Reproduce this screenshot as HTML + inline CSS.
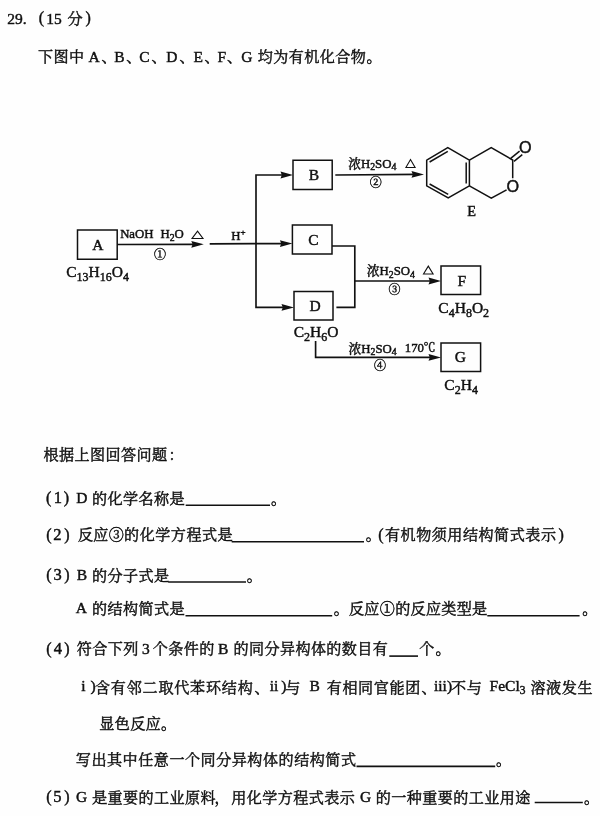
<!DOCTYPE html>
<html lang="zh-CN">
<head>
<meta charset="utf-8">
<title>29</title>
<style>
html,body{margin:0;padding:0;background:#fff}
body{width:600px;height:816px;overflow:hidden;position:relative;font-family:"Liberation Serif",serif}
.page{position:absolute;left:0;top:0;width:600px;height:816px;background:#fefefe;overflow:hidden}
svg{position:absolute;left:0;overflow:visible;font-family:"Liberation Serif",serif;fill:#111}
svg text{white-space:pre}
.z{fill:none;stroke:none}
.c{font-family:"Liberation Serif","Noto Serif CJK SC",serif;fill:#111}
.l{fill:none;stroke:#111}
.a{fill:#111;stroke:none}
.s{font-family:"Liberation Sans",sans-serif}
text{stroke:#111;stroke-width:0.45}
.page{filter:grayscale(1)}
</style>
</head>
<body>
<div class="page">
<svg style="top:4px" width="600" height="28" viewBox="0 4 600 28">
<text x="7.32" y="24" font-size="15.5">29.</text>
<text x="38.8" y="23.4" font-size="16">(</text>
<text x="46.24" y="24" font-size="15.5">15</text>
<text class="c" x="67.56" y="24" font-size="15.1">分</text>
<text x="85.6" y="23.4" font-size="16">)</text>
</svg>
<svg style="top:42px" width="600" height="28" viewBox="0 42 600 28">
<text class="c" x="38.03" y="61.6" font-size="15.1" letter-spacing="0.4">下图中</text>
<text x="88.45" y="61.8" font-size="15.5">A</text>
<text class="c" x="101.44" y="61.6" font-size="15.1">、</text>
<text x="114.25" y="61.8" font-size="15.5">B</text>
<text class="c" x="126.14" y="61.6" font-size="15.1">、</text>
<text x="139.36" y="61.8" font-size="15.5">C</text>
<text class="c" x="151.44" y="61.6" font-size="15.1">、</text>
<text x="166.25" y="61.8" font-size="15.5">D</text>
<text class="c" x="179.44" y="61.6" font-size="15.1">、</text>
<text x="193.55" y="61.8" font-size="15.5">E</text>
<text class="c" x="204.44" y="61.6" font-size="15.1">、</text>
<text x="217.55" y="61.8" font-size="15.5">F</text>
<text class="c" x="226.94" y="61.6" font-size="15.1">、</text>
<text x="241.36" y="61.8" font-size="15.5">G</text>
<text class="c" x="257.77" y="61.6" font-size="15.1" letter-spacing="0.4">均为有机化合物</text>
<text class="c" x="366.57" y="61.6" font-size="15.1">。</text>
</svg>
<svg style="top:130px" width="600" height="280" viewBox="0 130 600 280">
<path class="l" stroke-width="1.5" d="M77.5 230H117.2V259.2H77.5Z"/>
<text x="92.28" y="249.72" font-size="15.5">A</text>
<path class="l" stroke-width="1.5" d="M293 160.3H332.2V189.5H293Z"/>
<text x="308.69" y="179.95" font-size="15.5">B</text>
<path class="l" stroke-width="1.5" d="M292.4 225H332V254H292.4Z"/>
<text x="308.34" y="244.76" font-size="15.5">C</text>
<path class="l" stroke-width="1.5" d="M294 291.4H333V320H294Z"/>
<text x="309.49" y="311.06" font-size="15.5">D</text>
<path class="l" stroke-width="1.5" d="M441 266H480.6V294.6H441Z"/>
<text x="457.55" y="286.07" font-size="15.5">F</text>
<path class="l" stroke-width="1.5" d="M441 343H480.6V371.6H441Z"/>
<text x="454.83" y="362.06" font-size="15.5">G</text>
<path class="l" stroke-width="1.65" d="M117.2 244.5L198 244.3"/>
<path class="a" d="M203.8 244.3L191.3 240.9L192.6 244.3L191.3 247.7Z"/>
<path class="l" stroke-width="1.65" d="M209.7 243.8L285 243.6"/>
<path class="a" d="M292.4 243.6L279.9 240.2L281.2 243.6L279.9 247Z"/>
<path class="l" stroke-width="1.65" d="M285 175L256 175L256 307.4L285 307.4"/>
<path class="a" d="M293 175L280.5 171.6L281.8 175L280.5 178.4Z"/>
<path class="a" d="M294 307.4L281.5 304L282.8 307.4L281.5 310.8Z"/>
<path class="l" stroke-width="1.65" d="M335.3 175L418 174.4"/>
<path class="a" d="M424 174.4L411.5 171L412.8 174.4L411.5 177.8Z"/>
<path class="l" stroke-width="1.65" d="M332 246L354.8 246L354.8 307.4L336.4 307.4"/>
<path class="l" stroke-width="1.65" d="M354.8 281L435 281"/>
<path class="a" d="M441 281L428.5 277.6L429.8 281L428.5 284.4Z"/>
<path class="l" stroke-width="1.65" d="M315.6 341L315.6 357.4L435 357.4"/>
<path class="a" d="M441 357.4L428.5 354L429.8 357.4L428.5 360.8Z"/>
<text x="120.13" y="238.3" font-size="12.8">NaOH</text>
<text x="160.43" y="238.3" font-size="12.8">H</text>
<text x="169.68" y="240.7" font-size="9.8">2</text>
<text x="174.58" y="238.3" font-size="12.8">O</text>
<path class="l" stroke-width="1.1" stroke-linejoin="miter" d="M192.1 238.45L197.55 231.1L203 238.45Z"/>
<text class="z" x="191.2" y="239" font-size="10">△</text>
<text class="c" x="154" y="258.86" font-size="12">①</text>
<text x="231.13" y="240" font-size="12.8">H</text>
<text x="240.38" y="235.14" font-size="9">+</text>
<text class="c" x="348.15" y="167.8" font-size="12.8">浓</text>
<text x="360.95" y="167.8" font-size="12.8">H</text>
<text x="370.2" y="170.2" font-size="9.8">2</text>
<text x="375.1" y="167.8" font-size="12.8">SO</text>
<text x="391.46" y="170.2" font-size="9.8">4</text>
<path class="l" stroke-width="1.1" stroke-linejoin="miter" d="M405.9 167.45L410.5 159.5L415.1 167.45Z"/>
<text class="z" x="405" y="168" font-size="10">△</text>
<text class="c" x="369.7" y="187.26" font-size="12">②</text>
<text class="c" x="366.75" y="275.4" font-size="12.8">浓</text>
<text x="379.55" y="275.4" font-size="12.8">H</text>
<text x="388.8" y="277.8" font-size="9.8">2</text>
<text x="393.7" y="275.4" font-size="12.8">SO</text>
<text x="410.06" y="277.8" font-size="9.8">4</text>
<path class="l" stroke-width="1.1" stroke-linejoin="miter" d="M423.5 274.05L428.3 266.1L433.1 274.05Z"/>
<text class="z" x="422.6" y="274.6" font-size="10">△</text>
<text class="c" x="388.5" y="293.76" font-size="12">③</text>
<text class="c" x="348.45" y="352.8" font-size="12.8">浓</text>
<text x="361.25" y="352.8" font-size="12.8">H</text>
<text x="370.5" y="355.2" font-size="9.8">2</text>
<text x="375.4" y="352.8" font-size="12.8">SO</text>
<text x="391.76" y="355.2" font-size="9.8">4</text>
<text x="404.77" y="352.2" font-size="12.8">170</text>
<text class="c" x="423.45" y="352.2" font-size="12">℃</text>
<text class="c" x="374" y="369.66" font-size="12">④</text>
<text x="66.16" y="277.2" font-size="15.5">C</text>
<text x="76.5" y="280.5" font-size="12">13</text>
<text x="88.5" y="277.2" font-size="15.5">H</text>
<text x="99.7" y="280.5" font-size="12">16</text>
<text x="111.7" y="277.2" font-size="15.5">O</text>
<text x="122.89" y="280.5" font-size="12">4</text>
<text x="293.76" y="337.2" font-size="15.5">C</text>
<text x="304.1" y="340.5" font-size="12">2</text>
<text x="310.1" y="337.2" font-size="15.5">H</text>
<text x="321.3" y="340.5" font-size="12">6</text>
<text x="327.3" y="337.2" font-size="15.5">O</text>
<text x="438.36" y="313.2" font-size="15.5">C</text>
<text x="448.7" y="316.5" font-size="12">4</text>
<text x="454.7" y="313.2" font-size="15.5">H</text>
<text x="465.9" y="316.5" font-size="12">8</text>
<text x="471.9" y="313.2" font-size="15.5">O</text>
<text x="483.09" y="316.5" font-size="12">2</text>
<text x="444.36" y="390.2" font-size="15.5">C</text>
<text x="454.7" y="393.5" font-size="12">2</text>
<text x="460.7" y="390.2" font-size="15.5">H</text>
<text x="471.9" y="393.5" font-size="12">4</text>
<path class="l" stroke-width="1.5" d="M426.7 160.1L447.8 147.7L469.4 160.1L469.4 185.9L448.2 197.9L426.7 185.9L426.7 160.1L447.8 147.7"/>
<path class="l" stroke-width="1.5" d="M429.6 162L447.8 151.4"/>
<path class="l" stroke-width="1.5" d="M466.2 162.6L466.2 183.4"/>
<path class="l" stroke-width="1.5" d="M429.6 184L448.2 194.4"/>
<path class="l" stroke-width="1.5" d="M469.4 160.1L491.2 147.7L512.7 160L512.7 178.3"/>
<path class="l" stroke-width="1.5" d="M506.6 189.8L491.3 198.2L469.4 185.9"/>
<path class="l" stroke-width="1.5" d="M510.7 158.3L519.6 151.2"/>
<path class="l" stroke-width="1.5" d="M514 161.4L522.3 154.7"/>
<text class="s" x="506.6" y="191.57" font-size="16.2">O</text>
<text class="s" x="519.1" y="152.97" font-size="16.2">O</text>
<text x="467.29" y="215.7" font-size="14.3">E</text>
</svg>
<svg style="top:442px" width="600" height="28" viewBox="0 442 600 28">
<text class="c" x="43.53" y="460.2" font-size="15.1" letter-spacing="0.4">根据上图回答问题</text>
<text class="c" x="168.39" y="460.2" font-size="15.1">：</text>
</svg>
<svg style="top:484px" width="600" height="28" viewBox="0 484 600 28">
<text x="46" y="503.4" font-size="16">(</text>
<text x="53.75" y="503.2" font-size="16.5">1</text>
<text x="63.7" y="503.4" font-size="16">)</text>
<text x="76.25" y="503.2" font-size="15.5">D</text>
<text class="c" x="92.02" y="504" font-size="15.1" letter-spacing="0.4">的化学名称是</text>
<path class="l" stroke-width="1.6" d="M185.7 505.2H270"/>
<text class="c" x="271.07" y="504" font-size="15.1">。</text>
</svg>
<svg style="top:520px" width="600" height="28" viewBox="0 520 600 28">
<text x="46.3" y="539.7" font-size="16">(</text>
<text x="53.27" y="539.5" font-size="16.5">2</text>
<text x="64.3" y="539.7" font-size="16">)</text>
<text class="c" x="78.07" y="540.3" font-size="15.1" letter-spacing="0.2">反应③</text>
<text class="c" x="124.12" y="540.3" font-size="15.1" letter-spacing="0.48">的化学方程式是</text>
<path class="l" stroke-width="1.6" d="M231.7 541.7H364"/>
<text class="c" x="365.87" y="540.3" font-size="15.1">。</text>
<text x="378.3" y="539.7" font-size="16">(</text>
<text class="c" x="384.94" y="540.3" font-size="15.1" letter-spacing="0.5">有机物须用结构简式表示</text>
<text x="558.5" y="539.7" font-size="16">)</text>
</svg>
<svg style="top:561px" width="600" height="28" viewBox="0 561 600 28">
<text x="46.3" y="580.3" font-size="16">(</text>
<text x="53.51" y="580.1" font-size="16.5">3</text>
<text x="64.3" y="580.3" font-size="16">)</text>
<text x="76.85" y="580.1" font-size="15.5">B</text>
<text class="c" x="92.02" y="580.9" font-size="15.1" letter-spacing="0.4">的分子式是</text>
<path class="l" stroke-width="1.6" d="M168.3 582H246"/>
<text class="c" x="246.67" y="580.9" font-size="15.1">。</text>
</svg>
<svg style="top:595px" width="600" height="28" viewBox="0 595 600 28">
<text x="75.85" y="613.2" font-size="15.5">A</text>
<text class="c" x="92.02" y="614.4" font-size="15.1" letter-spacing="0.4">的结构简式是</text>
<path class="l" stroke-width="1.6" d="M185.5 615.8H332.2"/>
<text class="c" x="333.77" y="614.4" font-size="15.1">。</text>
<text class="c" x="348.97" y="614.4" font-size="15.1" letter-spacing="0.3">反应①的反应类型是</text>
<path class="l" stroke-width="1.6" d="M487.3 615.8H579.6"/>
<text class="c" x="582.17" y="614.4" font-size="15.1">。</text>
</svg>
<svg style="top:635px" width="600" height="28" viewBox="0 635 600 28">
<text x="46.3" y="653.8" font-size="16">(</text>
<text x="53.68" y="653.6" font-size="16.5">4</text>
<text x="64.3" y="653.8" font-size="16">)</text>
<text class="c" x="76.85" y="654.4" font-size="15.1" letter-spacing="0.4">符合下列</text>
<text x="141.96" y="653.6" font-size="15.5">3</text>
<text class="c" x="152.82" y="654.4" font-size="15.1" letter-spacing="0.4">个条件的</text>
<text x="218.05" y="653.6" font-size="15.5">B</text>
<text class="c" x="233.42" y="654.4" font-size="15.1" letter-spacing="0.4">的同分异构体的数目有</text>
<path class="l" stroke-width="1.6" d="M389.3 656.1H418"/>
<text class="c" x="419.22" y="654.4" font-size="15.1">个</text>
<text class="c" x="435.57" y="654.4" font-size="15.1">。</text>
</svg>
<svg style="top:672px" width="600" height="28" viewBox="0 672 600 28">
<text x="81.37" y="690.8" font-size="15.5">i</text>
<text x="90.5" y="690.8" font-size="15.5">)</text>
<text class="c" x="94.94" y="692.5" font-size="15.1" letter-spacing="0.77">含有邻二取代苯环结构</text>
<text class="c" x="254.44" y="692.5" font-size="15.1">、</text>
<text x="269.67" y="690.8" font-size="15.5">ii</text>
<text x="281.2" y="690.8" font-size="15.5">)</text>
<text class="c" x="285.35" y="692.5" font-size="15.1">与</text>
<text x="309.55" y="690.8" font-size="15.5">B</text>
<text class="c" x="326.74" y="692.5" font-size="15.1" letter-spacing="0.6">有相同官能团</text>
<text class="c" x="421.44" y="692.5" font-size="15.1">、</text>
<text x="433.97" y="690.8" font-size="15.5">iii)</text>
<text class="c" x="451" y="692.5" font-size="15.1" letter-spacing="0.7">不与</text>
<text x="489.55" y="690.8" font-size="15.5">FeCl</text>
<text x="519.7" y="693.8" font-size="11.5">3</text>
<text class="c" x="530.41" y="692.5" font-size="15.1" letter-spacing="0.6">溶液发生</text>
</svg>
<svg style="top:709px" width="600" height="28" viewBox="0 709 600 28">
<text class="c" x="99.29" y="729" font-size="15.1" letter-spacing="0.4">显色反应</text>
<text class="c" x="161.07" y="729" font-size="15.1">。</text>
</svg>
<svg style="top:744px" width="600" height="28" viewBox="0 744 600 28">
<text class="c" x="75.84" y="764.5" font-size="15.1" letter-spacing="0.5">写出其中任意一个同分异构体的结构简式</text>
<path class="l" stroke-width="1.6" d="M356.5 766.4H495.2"/>
<text class="c" x="495.97" y="764.5" font-size="15.1">。</text>
</svg>
<svg style="top:783px" width="600" height="28" viewBox="0 783 600 28">
<text x="46.3" y="802.4" font-size="16">(</text>
<text x="53.34" y="802.2" font-size="16.5">5</text>
<text x="64.3" y="802.4" font-size="16">)</text>
<text x="76.06" y="802.2" font-size="15.5">G</text>
<text class="c" x="92.12" y="803" font-size="15.1" letter-spacing="0.4">是重要的工业原料</text>
<text class="c" x="214.46" y="803" font-size="15.1">，</text>
<text class="c" x="231.27" y="803" font-size="15.1" letter-spacing="0.4">用化学方程式表示</text>
<text x="359.96" y="802.2" font-size="15.5">G</text>
<text class="c" x="375.72" y="803" font-size="15.1" letter-spacing="0.4">的一种重要的工业用途</text>
<path class="l" stroke-width="1.6" d="M534.7 802.5H582.8"/>
<text class="c" x="583.97" y="803" font-size="15.1">。</text>
</svg>
</div>
</body>
</html>
